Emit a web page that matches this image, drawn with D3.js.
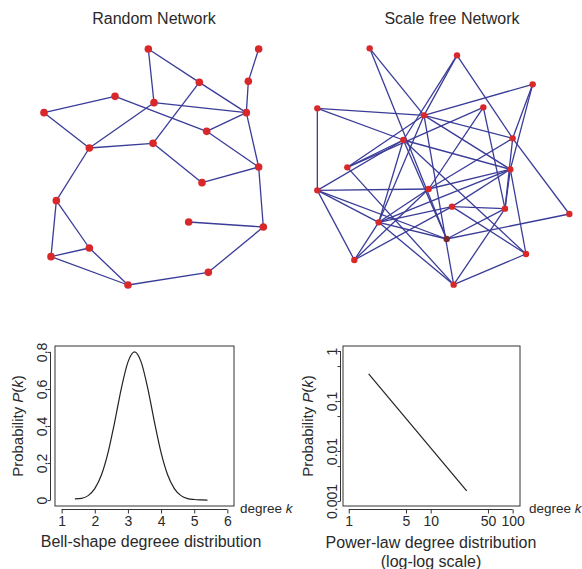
<!DOCTYPE html>
<html><head><meta charset="utf-8">
<script src="https://cdn.jsdelivr.net/npm/d3@7"></script>
<style>
html,body{margin:0;padding:0;background:#fff;}
svg{display:block;font-family:"Liberation Sans",Arial,sans-serif;}
</style></head><body>
<svg id="chart" width="582" height="569"></svg>
<script>
// ---------------- DATA ----------------
const panelTitles = ["Random Network", "Scale free Network"];

// Random network: node layout coordinates (layout units) and edges
const randomNodes = [
  ["A",355,57],["B",686,57],["C",508,157],["D",655,154],["E",255,199],
  ["F",372,218],["G",42,248],["H",649,248],["I",530,304],["J",369,340],
  ["K",178,354],["L",686,411],["M",516,458],["N",79,512],["O",476,576],
  ["P",700,591],["Q",178,654],["R",63,680],["S",535,727],["T",294,765]
];
const randomEdges = [
  ["A","F"],["A","C"],["C","H"],["C","J"],["B","D"],["D","H"],["G","E"],
  ["E","I"],["F","H"],["F","K"],["G","K"],["I","H"],["I","L"],["K","J"],
  ["J","M"],["M","L"],["H","L"],["L","P"],["K","N"],["N","Q"],["N","R"],
  ["R","Q"],["R","T"],["Q","T"],["T","S"],["S","P"],["O","P"]
];

// Scale-free network
const scaleFreeNodes = [
  ["a",209,55],["b",471,76],["c",698,163],["d",52,235],["e",550,232],
  ["f",372,256],["g",638,325],["h",310,330],["i",142,412],["j",631,418],
  ["k",52,481],["l",386,477],["m",456,530],["n",615,536],["o",808,552],
  ["p",236,577],["q",440,627],["r",163,690],["s",678,672],["t",461,764]
];
const scaleFreeEdges = [
  ["a","f"],["a","q"],["b","f"],["b","h"],["b","g"],["c","f"],["c","g"],["c","j"],
  ["d","k"],["d","f"],["d","h"],["e","i"],["e","l"],["e","n"],
  ["f","g"],["f","j"],["f","p"],["f","t"],["f","i"],
  ["g","o"],["g","l"],["g","n"],
  ["h","i"],["h","j"],["h","p"],["h","q"],["h","s"],["h","k"],
  ["i","t"],["j","l"],["j","m"],["j","s"],["j","p"],
  ["k","l"],["k","p"],["k","r"],["k","q"],["l","p"],["l","r"],
  ["m","n"],["m","p"],["m","s"],["m","r"],
  ["n","t"],["n","q"],["n","j"],["o","q"],["p","q"],["p","t"],["p","r"],["s","t"]
];
const darkNodes = ["q"];

// Bell-shaped degree distribution
const bellK = [1.4,1.6,1.8,2.0,2.2,2.4,2.6,2.8,3.0,3.2,3.4,3.6,3.8,4.0,4.2,4.4,4.6,4.8,5.0,5.2,5.4];
const bellP = [0.006,0.009,0.024,0.062,0.135,0.256,0.421,0.602,0.745,0.800,0.745,0.602,0.421,0.256,0.135,0.062,0.024,0.008,0.003,0.001,0.000];
const bellXTicks = [1,2,3,4,5,6];
const bellYTicks = [0,0.2,0.4,0.6,0.8];
const bellYLabels = ["0","0.2","0.4","0.6","0.8"];

// Power-law degree distribution (log-log)
const powerK = [1.75, 27.5];
const powerP = [0.35, 0.0016];
const powerXTicks = [1,5,10,50,100];
const powerXLabels = ["1","5","10","50","100"];
const powerYTicks = [1,0.5,0.1,0.05,0.01,0.005,0.001];
const powerYLabels = ["1","","0.1","","0.01","","0.001"];

const bottomTitles = [["Bell-shape degreee distribution"],["Power-law degree distribution","(log-log scale)"]];

// ---------------- DRAW ----------------
const svg = d3.select("#chart");
const edgeColor = "#3a3c98", nodeColor = "#d8282a", textColor = "#2a2a2a", axisColor = "#333";
const FONT = "Liberation Sans, Arial, sans-serif";

// titles
svg.selectAll("text.ptitle").data(panelTitles).join("text")
  .attr("class","ptitle")
  .attr("x",(d,i)=> i===0 ? 154 : 452).attr("y",24)
  .attr("text-anchor","middle").attr("font-size",16).attr("fill",textColor)
  .text(d=>d);

function drawNetwork(nodes, edges, xs, ys, r) {
  const pos = new Map(nodes.map(n=>[n[0],n]));
  const g = svg.append("g");
  g.selectAll("line").data(edges).join("line")
    .attr("x1",e=>xs(pos.get(e[0])[1])).attr("y1",e=>ys(pos.get(e[0])[2]))
    .attr("x2",e=>xs(pos.get(e[1])[1])).attr("y2",e=>ys(pos.get(e[1])[2]))
    .attr("stroke",edgeColor).attr("stroke-width",1.3);
  g.selectAll("circle").data(nodes).join("circle")
    .attr("cx",n=>xs(n[1])).attr("cy",n=>ys(n[2])).attr("r",r)
    .attr("fill",n=> darkNodes.includes(n[0]) ? "#7a2a2c" : nodeColor);
}
drawNetwork(randomNodes, randomEdges,
  d3.scaleLinear().domain([0,750]).range([30,280]),
  d3.scaleLinear().domain([0,810]).range([30,300]), 3.8);
drawNetwork(scaleFreeNodes, scaleFreeEdges,
  d3.scaleLinear().domain([0,846]).range([300,582]),
  d3.scaleLinear().domain([0,810]).range([30,300]), 3.2);

function drawPlot(cfg) {
  const {x, y, box, xTicks, xLabels, yTicks, yLabels, yAxisX, xAxisY, ylabX, degX} = cfg;
  const g = svg.append("g");
  g.append("rect").attr("x",box[0]).attr("y",box[1])
    .attr("width",box[2]-box[0]).attr("height",box[3]-box[1])
    .attr("fill","none").attr("stroke",axisColor).attr("stroke-width",1);
  // x axis
  const xa = g.append("g").attr("transform",`translate(0,${xAxisY})`)
    .call(d3.axisBottom(x).tickValues(xTicks).tickSize(4).tickFormat((d,i)=>xLabels[i]).tickPadding(3));
  xa.attr("font-size",14).attr("font-family",FONT);
  xa.select(".domain").remove();
  xa.append("line").attr("x1",x(xTicks[0])).attr("x2",x(xTicks[xTicks.length-1]))
    .attr("stroke",axisColor);
  xa.selectAll("line").attr("stroke",axisColor);
  xa.selectAll("text").attr("fill",textColor);
  // y axis
  const ya = g.append("g").attr("transform",`translate(${yAxisX},0)`)
    .call(d3.axisLeft(y).tickValues(yTicks).tickSize(3).tickFormat((d,i)=>yLabels[i]));
  ya.attr("font-size",14).attr("font-family",FONT);
  ya.select(".domain").remove();
  ya.append("line").attr("y1",y(yTicks[0])).attr("y2",y(yTicks[yTicks.length-1]))
    .attr("stroke",axisColor);
  ya.selectAll("line").attr("stroke",axisColor);
  ya.selectAll("text").attr("fill",textColor)
    .attr("transform","rotate(-90)").attr("x",0).attr("y",-4).attr("dy",0)
    .attr("text-anchor","middle");
  // y label
  const yl = g.append("text").attr("transform",`translate(${ylabX},${(box[1]+box[3])/2}) rotate(-90)`)
    .attr("text-anchor","middle").attr("font-size",15).attr("fill",textColor);
  yl.append("tspan").text("Probability ");
  yl.append("tspan").attr("font-style","italic").text("P");
  yl.append("tspan").text("(");
  yl.append("tspan").attr("font-style","italic").text("k");
  yl.append("tspan").text(")");
  // degree k
  const dk = g.append("text").attr("x",degX).attr("y",513).attr("font-size",13.5).attr("fill",textColor);
  dk.append("tspan").text("degree ");
  dk.append("tspan").attr("font-style","italic").text("k");
  return g;
}

// Bell plot
const xBell = d3.scaleLinear().domain([0.8,6.2]).range([55,234]);
const yBell = d3.scaleLinear().domain([-0.032,0.832]).range([506,346]);
const gB = drawPlot({x:xBell, y:yBell, box:[55,346,234,506], xTicks:bellXTicks, xLabels:bellXTicks.map(String),
  yTicks:bellYTicks, yLabels:bellYLabels, yAxisX:50.5, xAxisY:509.5, ylabX:23, degX:240});
gB.append("path").datum(bellK.map((k,i)=>[k,bellP[i]]))
  .attr("d", d3.line().x(d=>xBell(d[0])).y(d=>yBell(d[1])).curve(d3.curveMonotoneX))
  .attr("fill","none").attr("stroke","#222").attr("stroke-width",1.2);

// Power plot
const xPow = d3.scaleLog().domain([Math.pow(10,-0.07), Math.pow(10,2.09)]).range([343,520]);
const yPow = d3.scaleLog().domain([Math.pow(10,-3.1), Math.pow(10,0.1)]).range([506,346]);
const gP = drawPlot({x:xPow, y:yPow, box:[343,346,520,506], xTicks:powerXTicks, xLabels:powerXLabels,
  yTicks:powerYTicks, yLabels:powerYLabels, yAxisX:340.5, xAxisY:509.5, ylabX:313, degX:529});
gP.append("path").datum(powerK.map((k,i)=>[k,powerP[i]]))
  .attr("d", d3.line().x(d=>xPow(d[0])).y(d=>yPow(d[1])))
  .attr("fill","none").attr("stroke","#222").attr("stroke-width",1.2);

// bottom titles
svg.append("text").attr("x",151).attr("y",547).attr("text-anchor","middle")
  .attr("font-size",16).attr("fill",textColor).text(bottomTitles[0][0]);
svg.selectAll("text.bt2").data(bottomTitles[1]).join("text").attr("class","bt2")
  .attr("x",431).attr("y",(d,i)=>548+i*19).attr("text-anchor","middle")
  .attr("font-size",16).attr("fill",textColor).text(d=>d);
</script>
</body></html>
